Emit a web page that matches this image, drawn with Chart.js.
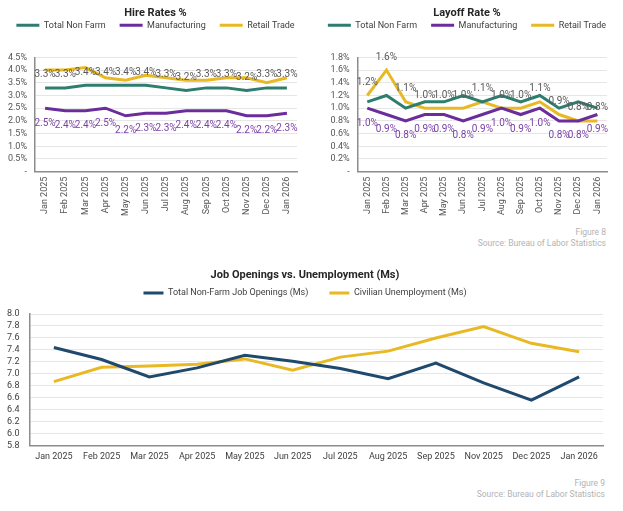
<!DOCTYPE html>
<html><head><meta charset="utf-8">
<script src="https://cdn.jsdelivr.net/npm/chart.js@4.4.1/dist/chart.umd.min.js"></script>
<style>
html,body{margin:0;padding:0;background:#fff;}
body{width:623px;height:511px;position:relative;overflow:hidden;font-family:Roboto,sans-serif;}
.box{position:absolute;}
.fig{position:absolute;right:17px;text-align:right;color:#b3b3b3;font-size:8.5px;line-height:11px;font-family:Roboto,sans-serif;}
</style></head><body>
<div class="box" style="left:0;top:0;"><canvas id="hire" width="311" height="222"></canvas></div>
<div class="box" style="left:311px;top:0;"><canvas id="layoff" width="312" height="222"></canvas></div>
<div class="fig" style="top:227px">Figure 8<br>Source: Bureau of Labor Statistics</div>
<div class="box" style="left:0;top:262px;"><canvas id="jobs" width="623" height="212"></canvas></div>
<div class="fig" style="top:478px;right:18px">Figure 9<br>Source: Bureau of Labor Statistics</div>
<script>
// ---- data ----
const months = ['Jan 2025','Feb 2025','Mar 2025','Apr 2025','May 2025','Jun 2025','Jul 2025','Aug 2025','Sep 2025','Oct 2025','Nov 2025','Dec 2025','Jan 2026'];
const seriesNames = ['Total Non Farm','Manufacturing','Retail Trade'];
const hireTotal  = [3.3,3.3,3.4,3.4,3.4,3.4,3.3,3.2,3.3,3.3,3.2,3.3,3.3];
const hireMfg    = [2.5,2.4,2.4,2.5,2.2,2.3,2.3,2.4,2.4,2.4,2.2,2.2,2.3];
const hireRetail = [4.0,4.0,4.1,3.7,3.6,3.8,3.7,3.6,3.6,3.7,3.7,3.5,3.7];
const layoffTotal  = [1.1,1.2,1.0,1.1,1.1,1.2,1.1,1.2,1.1,1.2,1.0,1.1,1.0];
const layoffMfg    = [1.0,0.9,0.8,0.9,0.9,0.8,0.9,1.0,0.9,1.0,0.8,0.8,0.9];
const layoffRetail = [1.2,1.6,1.1,1.0,1.0,1.0,1.1,1.0,1.0,1.1,0.9,0.8,0.8];
const jobMonths = ['Jan 2025','Feb 2025','Mar 2025','Apr 2025','May 2025','Jun 2025','Jul 2025','Aug 2025','Sep 2025','Nov 2025','Dec 2025','Jan 2026'];
const jobOpenings  = [7.44,7.24,6.95,7.10,7.31,7.21,7.09,6.92,7.18,6.85,6.56,6.95];
const unemployment = [6.87,7.11,7.13,7.16,7.25,7.06,7.28,7.38,7.60,7.79,7.51,7.37];

const GREEN='#2e7d6e', PURPLE='#6b2d9b', YELLOW='#e8b924', NAVY='#1f4a6e';
const TXT='#555555', GRID='#e6e6e6', AXIS='#8c8c8c';
const FONT='Roboto';

const pointLabels = {
  id:'pointLabels',
  afterDatasetsDraw(chart, args, opts){
    const ctx = chart.ctx;
    (opts.items||[]).forEach(it=>{
      const meta = chart.getDatasetMeta(it.dataset);
      const data = chart.data.datasets[it.dataset].data;
      ctx.save();
      ctx.font = (opts.size||10)+'px '+FONT;
      ctx.fillStyle = it.color; ctx.textAlign='center'; ctx.textBaseline='middle';
      meta.data.forEach((pt,i)=>ctx.fillText(data[i].toFixed(1)+'%', pt.x, pt.y+it.dy));
      ctx.restore();
    });
  }
};

function legendLabels(size, bw){
  return {
    font:{family:FONT,size:size}, color:'#404040', boxWidth:bw, boxHeight:3,
    generateLabels:(chart)=>Chart.defaults.plugins.legend.labels.generateLabels(chart)
      .map(l=>Object.assign({}, l, {fillStyle:l.strokeStyle, lineWidth:0}))
  };
}

function lineDs(label, data, color){
  return {label, data, borderColor:color, backgroundColor:color, borderWidth:3, pointRadius:0, tension:0, fill:false};
}

function topChart(id, title, d1, d2, d3, yMax, yStep, labelItems, axisX, padRight){
  return new Chart(document.getElementById(id), {
    type:'line',
    data:{labels:months, datasets:[lineDs(seriesNames[0],d1,GREEN), lineDs(seriesNames[1],d2,PURPLE), lineDs(seriesNames[2],d3,YELLOW)]},
    plugins:[pointLabels],
    options:{
      responsive:false, animation:false, devicePixelRatio:1,
      layout:{padding:{left:0,right:0,top:0,bottom:0.9}},
      plugins:{
        title:{display:true, text:title, color:'#262626', font:{family:FONT,size:11,weight:'bold',lineHeight:1.2}, padding:{top:6.4,bottom:-12.8}},
        legend:{display:true, labels:Object.assign(legendLabels(9,23),{padding:14})},
        subtitle:{display:true, text:'', weight:500, font:{size:1,lineHeight:1}, padding:{top:0,bottom:16.6}},
        tooltip:{enabled:false},
        pointLabels:{size:10, items:labelItems}
      },
      scales:{
        x:{offset:true, grid:{display:false, drawTicks:false}, border:{display:true,color:AXIS,width:1.5},
           ticks:{color:TXT, font:{family:FONT,size:9}, minRotation:90, maxRotation:90, autoSkip:false, padding:5},
           afterFit:s=>{s.paddingRight = padRight;}},
        y:{min:0, max:yMax, grid:{color:GRID, drawTicks:false}, border:{display:true,color:AXIS,width:1.5},
           ticks:{stepSize:yStep, autoSkip:false, color:TXT, font:{family:FONT,size:9}, padding:8,
             callback:v=>Math.abs(v)<1e-9?'-':Number(v).toFixed(1)+'%'},
           afterFit:s=>{s.width = axisX;}}
      }
    }
  });
}

topChart('hire','Hire Rates %',hireTotal,hireMfg,hireRetail,4.5,0.5,
  [{dataset:0,color:'#595959',dy:-13},{dataset:1,color:'#7a3fa6',dy:15}], 35, 14);
topChart('layoff','Layoff Rate %',layoffTotal,layoffMfg,layoffRetail,1.8,0.2,
  [{dataset:2,color:'#595959',dy:-13},{dataset:1,color:'#7a3fa6',dy:15}], 46.7, 16);

new Chart(document.getElementById('jobs'), {
  type:'line',
  data:{labels:jobMonths, datasets:[lineDs('Total Non-Farm Job Openings (Ms)',jobOpenings,NAVY), lineDs('Civilian Unemployment (Ms)',unemployment,YELLOW)]},
  options:{
    responsive:false, animation:false, devicePixelRatio:1,
    layout:{padding:{left:7,right:20,top:0,bottom:6.3}},
    plugins:{
      title:{display:true, text:'Job Openings vs. Unemployment (Ms)', color:'#262626', font:{family:FONT,size:11,weight:'bold',lineHeight:1.2}, padding:{top:6.4,bottom:-14.1}},
      legend:{display:true, labels:Object.assign(legendLabels(9,20),{padding:21})},
      subtitle:{display:true, text:'', weight:500, font:{size:1,lineHeight:1}, padding:{top:0,bottom:5.5}},
      tooltip:{enabled:false}
    },
    scales:{
      x:{offset:true, grid:{display:false, drawTicks:false}, border:{display:true,color:AXIS,width:1.5},
         ticks:{color:'#404040', font:{family:FONT,size:9}, maxRotation:0, autoSkip:false, padding:5.6}},
      y:{min:5.8, max:8.0, grid:{color:GRID, drawTicks:false}, border:{display:true,color:AXIS,width:1.5},
         ticks:{stepSize:0.2, autoSkip:false, color:'#404040', font:{family:FONT,size:9}, padding:10.5,
           callback:v=>Number(v).toFixed(1)},
         afterFit:s=>{s.width = 23;}}
    }
  }
});
</script>
</body></html>
